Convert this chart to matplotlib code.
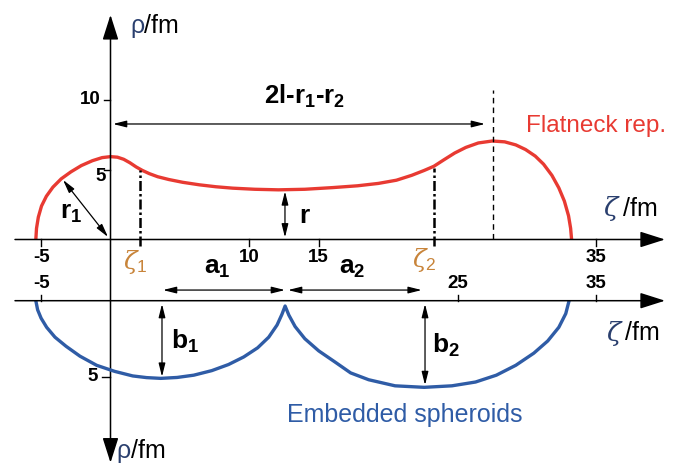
import numpy as np
import matplotlib
matplotlib.use("Agg")
import matplotlib.pyplot as plt

plt.rcParams['font.family'] = ['Liberation Sans', 'DejaVu Sans']
plt.rcParams['mathtext.fontset'] = 'custom'
plt.rcParams['mathtext.rm'] = 'Liberation Sans'
plt.rcParams['mathtext.bf'] = 'Liberation Sans:bold'
plt.rcParams['mathtext.it'] = 'DejaVu Serif:italic'

# flatneck shape, zeta and rho in fm
flat_z = [-5.38, -5.33, -5.20, -4.97, -4.62, -4.15, -3.55, -2.85, -2.10, -1.30,
          -0.60, 0.00, 0.50, 0.95, 1.40, 1.85, 2.30, 2.80, 3.40, 4.20,
          5.20, 6.40, 7.60, 8.80, 10.40, 12.10, 14.00, 16.00, 17.80, 19.30,
          20.60, 21.70, 22.60, 23.30, 24.00, 24.80, 25.60, 26.50, 27.50, 28.40,
          29.20, 29.90, 30.60, 31.20, 31.80, 32.30, 32.70, 33.00, 33.15, 33.22]
flat_r = [0.00, 0.80, 1.60, 2.40, 3.10, 3.75, 4.35, 4.85, 5.30, 5.65,
          5.87, 5.94, 5.90, 5.75, 5.50, 5.20, 4.95, 4.72, 4.50, 4.30,
          4.10, 3.92, 3.78, 3.68, 3.60, 3.56, 3.60, 3.72, 3.85, 4.02,
          4.25, 4.60, 4.95, 5.25, 5.70, 6.20, 6.60, 6.92, 7.06, 7.00,
          6.78, 6.45, 5.98, 5.40, 4.60, 3.70, 2.75, 1.70, 0.80, 0.00]

# two embedded spheroids
sph_z = [-5.38, -5.25, -5.00, -4.60, -4.00, -3.20, -2.20, -1.00, 0.30, 1.60,
         2.60, 3.62, 4.80, 6.00, 7.30, 8.50, 9.60, 10.60, 11.40, 12.00,
         12.35, 12.58, 12.85, 13.30, 14.00, 15.00, 16.20, 17.30, 18.60, 20.50,
         22.60, 24.60, 26.30, 27.80, 29.20, 30.50, 31.50, 32.30, 32.80, 33.04]
sph_r = [0.00, 0.60, 1.15, 1.75, 2.40, 3.00, 3.65, 4.25, 4.65, 4.95,
         5.06, 5.11, 5.05, 4.90, 4.60, 4.20, 3.70, 3.10, 2.40, 1.60,
         0.90, 0.35, 0.95, 1.70, 2.50, 3.30, 4.05, 4.75, 5.20, 5.60,
         5.70, 5.60, 5.35, 4.90, 4.25, 3.45, 2.65, 1.75, 0.85, 0.00]

zeta1, zeta2 = 2.1, 23.3
neck_top = [4.95, 5.1]
zeta_peak, peak_top = 27.56, 10.7
neck_zeta, neck_r = 12.57, 3.45
a1_span = [3.78, 12.57]
a2_span = [12.79, 22.42]
b1_zeta, b1 = 3.71, 5.0
b2_zeta, b2 = 22.66, 5.55

top_zticks = [-5, 10, 15, 35]
top_rticks = [10, 5]
bot_zticks = [-5, 25, 35]
bot_rticks = [5]

red = '#e83a32'
blue = '#2f5ca6'
zcol = '#c8843a'
gcol = '#2a3f6e'

fig = plt.figure(figsize=(6.76, 4.68), dpi=100)
ax = fig.add_axes([0, 0, 1, 1])
ax.set_xlim(-7.961, 40.742)
ax.set_ylim(-16.380, 17.168)
ax.axis('off')
ax.patch.set_alpha(0)

bx = fig.add_axes([0, 0, 1, 1])
bx.set_xlim(-7.961, 40.742)
bx.set_ylim(11.007, -19.783)
bx.axis('off')
bx.patch.set_alpha(0)

big = dict(arrowstyle='-|>,head_length=1.1,head_width=0.35', color='k',
           lw=1.1, shrinkA=0, shrinkB=0, mutation_scale=14)
small = dict(arrowstyle='<|-|>,head_length=0.8,head_width=0.2', color='k',
             lw=0.9, shrinkA=0, shrinkB=0, mutation_scale=10)

# axes arrows
ax.annotate('', xy=(39.95, 0), xytext=(-6.88, 0), arrowprops=big)
bx.annotate('', xy=(39.95, 0), xytext=(-6.88, 0), arrowprops=big)
ax.annotate('', xy=(0, 16.1), xytext=(0, 0), arrowprops=big)
ax.annotate('', xy=(0, -16.0), xytext=(0, 0), arrowprops=big)

# ticks and tick labels
tfs = 13.5
for t in top_zticks:
    ax.plot([t, t], [0, -0.5], color='k', lw=1.0)
    ax.text(t, -1.3, str(t), ha='center', va='center', fontsize=tfs,
            fontweight='bold')
for t in top_rticks:
    ax.plot([-0.45, 0], [t, t], color='k', lw=1.0)
ax.text(-0.68, 10.0, '10', ha='right', va='center', fontsize=tfs,
        fontweight='bold')
ax.text(-0.3, 4.5, '5', ha='right', va='center', fontsize=tfs,
        fontweight='bold')
for t in bot_zticks:
    bx.plot([t, t], [0, -0.4], color='k', lw=1.0)
    bx.text(t, -1.15, str(t), ha='center', va='center', fontsize=tfs,
            fontweight='bold')
for t in bot_rticks:
    bx.plot([-0.6, 0], [t, t], color='k', lw=1.0)
    bx.text(-0.9, t, str(t), ha='right', va='center', fontsize=tfs,
            fontweight='bold')

# axis titles
ax.text(1.4, 15.3, 'ρ', ha='left', va='center', fontsize=18, color=gcol)
ax.text(2.4, 15.3, '/fm', ha='left', va='center', fontsize=18)
bx.text(0.45, 9.9, 'ρ', ha='left', va='center', fontsize=18, color=gcol)
bx.text(1.45, 9.9, '/fm', ha='left', va='center', fontsize=18)
ax.text(35.5, 2.2, r'$\zeta$', ha='left', va='center', fontsize=19, color=gcol)
ax.text(36.9, 2.2, '/fm', ha='left', va='center', fontsize=18)
bx.text(35.7, 2.15, r'$\zeta$', ha='left', va='center', fontsize=19, color=gcol)
bx.text(37.1, 2.15, '/fm', ha='left', va='center', fontsize=18)

# shapes
ax.plot(flat_z, flat_r, color=red, lw=2.4, solid_joinstyle='round',
        solid_capstyle='butt')
bx.plot(sph_z, sph_r, color=blue, lw=2.4, solid_joinstyle='round',
        solid_capstyle='butt')

# neck boundaries
ax.plot([zeta1, zeta1], [-0.5, neck_top[0]], color='k', lw=1.8,
        linestyle=(0, (4, 1.2, 1, 1.2)))
ax.plot([zeta2, zeta2], [-0.5, neck_top[1]], color='k', lw=1.8,
        linestyle=(0, (4, 1.2, 1, 1.2)))
ax.plot([zeta_peak, zeta_peak], [0, peak_top], color='k', lw=1.0,
        linestyle=(0, (4, 3)))
ax.text(zeta1 - 0.3, -1.6, r'$\zeta_1$', ha='center', va='center',
        fontsize=18, color=zcol)
ax.text(zeta2 - 0.7, -1.5, r'$\zeta_2$', ha='center', va='center',
        fontsize=18, color=zcol)

# dimension arrows, upper shape
ax.annotate('', xy=(26.98, 8.28), xytext=(0.18, 8.28), arrowprops=small)
ax.text(13.95, 9.76, '2l\u2010r$\\mathbf{_1}$\u2010r$\\mathbf{_2}$',
        ha='center', va='baseline', fontsize=18.5, fontweight='bold')
ax.annotate('', xy=(-3.42, 4.27), xytext=(-0.18, 0.18), arrowprops=small)
ax.text(-2.85, 1.9, r'$\mathbf{r_1}$', ha='center', va='center', fontsize=19)
ax.annotate('', xy=(neck_zeta, neck_r), xytext=(neck_zeta, 0.15),
            arrowprops=small)
ax.text(14.0, 1.68, r'$\mathbf{r}$', ha='center', va='center', fontsize=19)
ax.text(34.98, 8.14, 'Flatneck rep.', ha='center', va='center',
        fontsize=17.5, color=red)

# dimension arrows, lower shape
bx.annotate('', xy=(a1_span[1], -0.7), xytext=(a1_span[0], -0.7),
            arrowprops=small)
bx.annotate('', xy=(a2_span[1], -0.7), xytext=(a2_span[0], -0.7),
            arrowprops=small)
bx.text(7.67, -2.16, r'$\mathbf{a_1}$', ha='center', va='center', fontsize=19)
bx.text(17.4, -2.16, r'$\mathbf{a_2}$', ha='center', va='center', fontsize=19)
bx.annotate('', xy=(b1_zeta, b1), xytext=(b1_zeta, 0.22), arrowprops=small)
bx.annotate('', xy=(b2_zeta, b2), xytext=(b2_zeta, 0.22), arrowprops=small)
bx.text(5.37, 2.68, r'$\mathbf{b_1}$', ha='center', va='center', fontsize=19)
bx.text(24.17, 2.95, r'$\mathbf{b_2}$', ha='center', va='center', fontsize=19)
bx.text(21.22, 7.52, 'Embedded spheroids', ha='center', va='center',
        fontsize=18, color=blue)

fig.savefig('out.png', dpi=100)
